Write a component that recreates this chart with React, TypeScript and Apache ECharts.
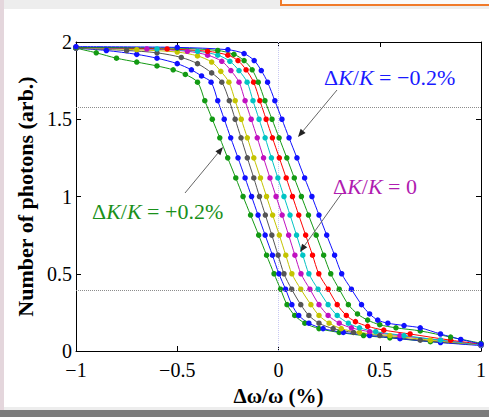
import React, { useEffect, useRef } from "react";
import * as echarts from "echarts";

const yTickLabels = ["0", "0.5", "1", "1.5", "2"];
const refLevels = [1.58, 0.39];
const zeroLine: number[][] = [[0, 0], [0, 2]];

const curveNames = ["+0.2%", "+0.15%", "+0.1%", "+0.05%", "0", "−0.05%", "−0.1%", "−0.15%", "−0.2%"];
const curveColors = ["#139a13", "#1010ff", "#555555", "#c4c400", "#c010c0", "#00c4c4", "#ff0000", "#139a13", "#1010ff"];

const curveP20: number[][] = [[-1, 1.96], [-0.9, 1.93], [-0.8, 1.895], [-0.7, 1.87], [-0.6, 1.845], [-0.52, 1.82], [-0.46, 1.79], [-0.4, 1.74], [-0.364, 1.62], [-0.327, 1.5], [-0.29, 1.38], [-0.251, 1.25], [-0.211, 1.12], [-0.175, 1.0], [-0.138, 0.88], [-0.098, 0.75], [-0.059, 0.62], [-0.022, 0.5], [0.01, 0.4], [0.042, 0.3], [0.08, 0.23], [0.13, 0.18], [0.2, 0.145], [0.3, 0.12], [0.42, 0.1], [0.55, 0.085], [0.75, 0.06], [1, 0.04]];
const curveP15: number[][] = [[-1, 1.96], [-0.85, 1.945], [-0.7, 1.92], [-0.6, 1.895], [-0.5, 1.86], [-0.43, 1.82], [-0.38, 1.78], [-0.333, 1.74], [-0.3, 1.62], [-0.268, 1.5], [-0.236, 1.38], [-0.2, 1.25], [-0.165, 1.12], [-0.133, 1.0], [-0.101, 0.88], [-0.066, 0.75], [-0.03, 0.62], [0.002, 0.5], [0.035, 0.4], [0.066, 0.3], [0.1, 0.23], [0.15, 0.18], [0.22, 0.145], [0.32, 0.12], [0.45, 0.1], [0.6, 0.08], [0.8, 0.055], [1, 0.035]];
const curveP10: number[][] = [[-1, 1.96], [-0.75, 1.945], [-0.6, 1.93], [-0.48, 1.9], [-0.4, 1.86], [-0.33, 1.8], [-0.28, 1.74], [-0.243, 1.62], [-0.214, 1.5], [-0.185, 1.38], [-0.154, 1.25], [-0.122, 1.12], [-0.094, 1.0], [-0.065, 0.88], [-0.033, 0.75], [-0.002, 0.62], [0.027, 0.5], [0.065, 0.4], [0.11, 0.3], [0.15, 0.23], [0.2, 0.18], [0.27, 0.145], [0.37, 0.12], [0.5, 0.1], [0.7, 0.07], [1, 0.04]];
const curveP05: number[][] = [[-1, 1.965], [-0.7, 1.95], [-0.5, 1.935], [-0.4, 1.91], [-0.33, 1.87], [-0.285, 1.81], [-0.245, 1.74], [-0.214, 1.62], [-0.184, 1.5], [-0.154, 1.38], [-0.122, 1.25], [-0.089, 1.12], [-0.059, 1.0], [-0.029, 0.88], [0.004, 0.75], [0.036, 0.62], [0.066, 0.5], [0.11, 0.4], [0.16, 0.3], [0.2, 0.23], [0.25, 0.18], [0.31, 0.145], [0.4, 0.12], [0.55, 0.1], [0.75, 0.07], [1, 0.04]];
const curveZ0: number[][] = [[-1, 1.965], [-0.65, 1.955], [-0.45, 1.94], [-0.35, 1.915], [-0.28, 1.875], [-0.235, 1.815], [-0.195, 1.74], [-0.165, 1.62], [-0.135, 1.5], [-0.105, 1.38], [-0.074, 1.25], [-0.042, 1.12], [-0.012, 1.0], [0.018, 0.88], [0.05, 0.75], [0.081, 0.62], [0.111, 0.5], [0.155, 0.4], [0.2, 0.3], [0.245, 0.23], [0.3, 0.18], [0.36, 0.15], [0.45, 0.125], [0.6, 0.1], [0.8, 0.07], [1, 0.04]];
const curveM05: number[][] = [[-1, 1.965], [-0.6, 1.955], [-0.4, 1.94], [-0.3, 1.915], [-0.24, 1.875], [-0.195, 1.815], [-0.155, 1.74], [-0.126, 1.62], [-0.096, 1.5], [-0.066, 1.38], [-0.035, 1.25], [-0.003, 1.12], [0.027, 1.0], [0.057, 0.88], [0.089, 0.75], [0.12, 0.62], [0.15, 0.5], [0.195, 0.4], [0.245, 0.3], [0.29, 0.23], [0.345, 0.18], [0.4, 0.15], [0.48, 0.125], [0.62, 0.1], [0.8, 0.07], [1, 0.04]];
const curveM10: number[][] = [[-1, 1.965], [-0.55, 1.955], [-0.35, 1.94], [-0.25, 1.915], [-0.2, 1.88], [-0.16, 1.82], [-0.123, 1.74], [-0.092, 1.62], [-0.061, 1.5], [-0.03, 1.38], [0.004, 1.25], [0.038, 1.12], [0.069, 1.0], [0.1, 0.88], [0.134, 0.75], [0.168, 0.62], [0.199, 0.5], [0.245, 0.4], [0.29, 0.3], [0.335, 0.23], [0.38, 0.19], [0.44, 0.16], [0.52, 0.135], [0.65, 0.11], [0.85, 0.07], [1, 0.045]];
const curveM15: number[][] = [[-1, 1.965], [-0.5, 1.96], [-0.3, 1.945], [-0.22, 1.92], [-0.17, 1.88], [-0.13, 1.82], [-0.1, 1.74], [-0.067, 1.62], [-0.032, 1.5], [0.003, 1.38], [0.041, 1.25], [0.078, 1.12], [0.113, 1.0], [0.148, 0.88], [0.186, 0.75], [0.223, 0.62], [0.258, 0.5], [0.3, 0.4], [0.345, 0.3], [0.39, 0.24], [0.44, 0.2], [0.5, 0.17], [0.58, 0.15], [0.7, 0.13], [0.85, 0.09], [1, 0.05]];
const curveM20: number[][] = [[-1, 1.97], [-0.5, 1.965], [-0.25, 1.95], [-0.17, 1.925], [-0.12, 1.88], [-0.085, 1.815], [-0.054, 1.74], [-0.018, 1.62], [0.017, 1.5], [0.052, 1.38], [0.091, 1.25], [0.129, 1.12], [0.165, 1.0], [0.2, 0.88], [0.238, 0.75], [0.277, 0.62], [0.312, 0.5], [0.36, 0.4], [0.41, 0.3], [0.45, 0.24], [0.49, 0.2], [0.54, 0.18], [0.62, 0.165], [0.7, 0.15], [0.8, 0.11], [0.9, 0.075], [1, 0.045]];

const curves = [curveP20, curveP15, curveP10, curveP05, curveZ0, curveM05, curveM10, curveM15, curveM20];

const SERIF = "'Liberation Serif', 'Times New Roman', serif";

function arrow(x1: number, y1: number, x2: number, y2: number) {
  const a = Math.atan2(y2 - y1, x2 - x1);
  const L = 8, W = 3.2;
  const bx = x2 - L * Math.cos(a), by = y2 - L * Math.sin(a);
  const px = -Math.sin(a) * W, py = Math.cos(a) * W;
  return [
    { type: "line", z: 10, shape: { x1, y1, x2: bx, y2: by }, style: { stroke: "#666", lineWidth: 1 } },
    { type: "polygon", z: 10, shape: { points: [[x2, y2], [bx + px, by + py], [bx - px, by - py]] }, style: { fill: "#222" } },
  ];
}

function label(x: number, y: number, tail: string, color: string) {
  return {
    type: "text",
    x,
    y,
    z: 10,
    style: {
      text: `{n|Δ}{i|K}{n|/}{i|K}{n| = ${tail}}`,
      fill: color,
      textVerticalAlign: "middle",
      rich: {
        n: { fontFamily: SERIF, fontSize: 22, fill: color },
        i: { fontFamily: SERIF, fontSize: 22, fontStyle: "italic", fill: color },
      },
    },
  };
}

export default function App() {
  const ref = useRef<HTMLDivElement>(null);
  useEffect(() => {
    if (!ref.current) return;
    const chart = echarts.init(ref.current, null, { renderer: "svg" });
    const fmtX = (v: number) => String(v).replace("-", "−");
    const series: any[] = [
      {
        name: "zero",
        type: "line",
        data: zeroLine,
        symbol: "none",
        silent: true,
        lineStyle: { type: "dotted", color: "#c8c8f2", width: 1 },
        z: 1,
      },
      ...curves.map((d, i) => ({
        name: curveNames[i],
        type: "line",
        data: d,
        smooth: 0.3,
        symbol: "circle",
        symbolSize: 5.5,
        color: curveColors[i],
        lineStyle: { width: 1, color: curveColors[i] },
        itemStyle: { color: curveColors[i] },
        z: 3,
      })),
    ];
    series[1].markLine = {
      silent: true,
      symbol: "none",
      label: { show: false },
      lineStyle: { type: "dotted", color: "#8c8c8c", width: 1 },
      data: refLevels.map((v) => ({ yAxis: v })),
    };
    const axisCommon = {
      axisLine: { show: true, onZero: false, lineStyle: { color: "#000", width: 1 } },
      axisTick: { show: true, inside: true, length: 5, lineStyle: { color: "#000" } },
      splitLine: { show: false },
    };
    chart.setOption({
      animation: false,
      backgroundColor: "transparent",
      grid: { left: 76, top: 42, right: 6, bottom: 66 },
      xAxis: [
        {
          type: "value", min: -1, max: 1, interval: 0.5, position: "bottom",
          ...axisCommon,
          axisLabel: { color: "#000", fontFamily: SERIF, fontSize: 20, margin: 9, formatter: fmtX },
          name: "Δω/ω (%)", nameLocation: "middle", nameGap: 34,
          nameTextStyle: { color: "#000", fontFamily: SERIF, fontSize: 21, fontWeight: "bold" },
        },
        { type: "value", min: -1, max: 1, interval: 0.5, position: "top", ...axisCommon, axisLabel: { show: false } },
      ],
      yAxis: [
        {
          type: "value", min: 0, max: 2, interval: 0.5, position: "left",
          ...axisCommon,
          axisLabel: { color: "#000", fontFamily: SERIF, fontSize: 20, lineHeight: 18, margin: 4, formatter: (v: number) => yTickLabels[Math.round(v * 2)] },
          name: "Number of photons (arb.)", nameLocation: "middle", nameGap: 27,
          nameTextStyle: { color: "#000", fontFamily: SERIF, fontSize: 22, fontWeight: "bold" },
        },
        { type: "value", min: 0, max: 2, interval: 0.5, position: "right", ...axisCommon, axisLabel: { show: false } },
      ],
      series,
      graphic: [
        ...arrow(337, 90, 298, 137),
        ...arrow(342, 193, 300, 252),
        ...arrow(185, 193, 223, 147),
        label(324, 77, "−0.2%", "#1a1aff"),
        label(333, 186, "0", "#b01cb0"),
        label(92, 211, "+0.2%", "#1a901a"),
      ],
    });
    return () => chart.dispose();
  }, []);
  return (
    <div style={{ position: "fixed", left: 0, top: 0, width: 489, height: 417, background: "#ededed", overflow: "hidden" }}>
      <div style={{ position: "absolute", left: 0, top: 0, width: 4, height: 417, background: "#e4d6dc" }} />
      <div style={{ position: "absolute", left: 280, top: -4, width: 215, height: 6, border: "2px solid #f07a2a", background: "#fafafa" }} />
      <div style={{ position: "absolute", left: 4, top: 9, width: 485, height: 398, background: "#ffffff" }} />
      <div style={{ position: "absolute", left: 0, top: 410, width: 489, height: 7, background: "#7c7c7c" }} />
      <div ref={ref} style={{ position: "absolute", left: 0, top: 0, width: 489, height: 417 }} />
    </div>
  );
}
